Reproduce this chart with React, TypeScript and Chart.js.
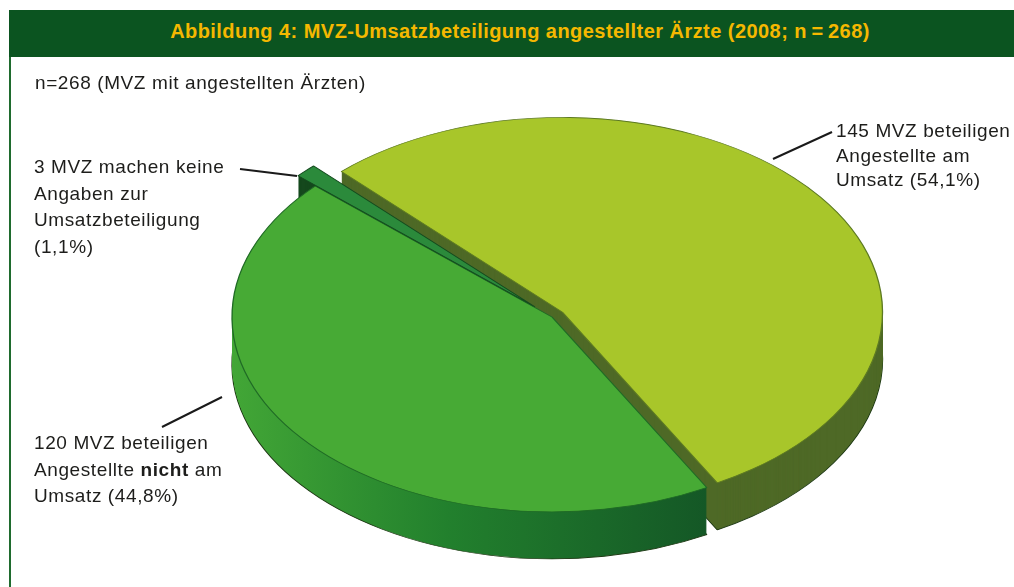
import React, { useEffect, useRef } from 'react';
import { Chart, registerables } from 'chart.js';

Chart.register(...registerables);

// ---- data ----
const categories = [
  '145 MVZ beteiligen Angestellte am Umsatz',
  '120 MVZ beteiligen Angestellte nicht am Umsatz',
  '3 MVZ machen keine Angaben zur Umsatzbeteiligung',
];
const counts = [145, 120, 3];
const percentLabels = ['54,1%', '44,8%', '1,1%'];
const labelLines = [
  ['145 MVZ beteiligen', 'Angestellte am', 'Umsatz (' + percentLabels[0] + ')'],
  ['120 MVZ beteiligen', 'Angestellte **nicht** am', 'Umsatz (' + percentLabels[1] + ')'],
  ['3 MVZ machen keine', 'Angaben zur', 'Umsatzbeteiligung', '(' + percentLabels[2] + ')'],
];
const titleText = 'Abbildung 4: MVZ-Umsatzbeteiligung angestellter Ärzte (2008; n\u2009=\u2009268)';
const subtitleText = 'n=268 (MVZ mit angestellten Ärzten)';

// ---- styles ----
const topColors = ['#a8c62a', '#47aa35', '#2b8a3b'];
const sideColors = ['#4e6926', '#22802d', '#15481d'];
const borderColors = ['#5d7a22', '#1f6a25', '#134a1e'];
const explode = [13, 0, 24];
const FONT = "'Liberation Sans', Arial, Helvetica, sans-serif";

const K = 0.609; // vertical squash
const DEPTH = 47; // side height in px
const CY = 317; // screen y of pie centre

const leaderLines = [
  [773, 159, 832, 132],
  [162, 427, 222, 397],
  [240, 169, 297, 176],
];

const pie3d = {
  id: 'pie3d',
  beforeDatasetsDraw(chart: any) {
    const ctx = chart.ctx as CanvasRenderingContext2D;
    const els = chart.getDatasetMeta(0).data;
    const grad = ctx.createLinearGradient(233, 0, 710, 0);
    grad.addColorStop(0, '#42a636');
    grad.addColorStop(0.45, '#22802d');
    grad.addColorStop(1, '#145726');
    for (let d = DEPTH; d >= 0; d--) {
      els.forEach((el: any, i: number) => {
        const { startAngle, endAngle, y } = el.getProps(['startAngle', 'endAngle', 'y'], true);
        const mid = (startAngle + endAngle) / 2;
        ctx.save();
        ctx.translate(0, CY + d);
        ctx.scale(1, K);
        ctx.translate(0, -y);
        ctx.translate(Math.cos(mid) * explode[i], Math.sin(mid) * explode[i]);
        const orig = el.options;
        const bg = d === 0 ? topColors[i] : i === 1 ? grad : sideColors[i];
        el.options = {
          ...orig,
          backgroundColor: bg,
          borderColor: d === 0 ? borderColors[i] : d === DEPTH ? '#1e3a14' : bg,
          borderWidth: d === 0 || d === DEPTH ? 1.3 : 0,
        };
        el.draw(ctx);
        el.options = orig;
        ctx.restore();
      });
    }
    ctx.save();
    ctx.strokeStyle = '#1a1a1a';
    ctx.lineWidth = 2;
    leaderLines.forEach(([x1, y1, x2, y2]) => {
      ctx.beginPath();
      ctx.moveTo(x1, y1);
      ctx.lineTo(x2, y2);
      ctx.stroke();
    });
    ctx.restore();
    return false;
  },
};

function renderLine(line: string, key: number) {
  const parts = line.split('**');
  return (
    <div key={key}>
      {parts.map((p, j) => (j % 2 === 1 ? <b key={j}>{p}</b> : <span key={j}>{p}</span>))}
    </div>
  );
}

const labelBox = (left: number, top: number, lh: number): React.CSSProperties => ({
  position: 'absolute',
  left,
  top,
  fontFamily: FONT,
  fontSize: 19,
  letterSpacing: 0.6,
  lineHeight: lh + 'px',
  color: '#1d1d1b',
  whiteSpace: 'nowrap',
});

export default function App() {
  const ref = useRef<HTMLCanvasElement | null>(null);
  useEffect(() => {
    if (!ref.current) return;
    const chart = new Chart(ref.current, {
      type: 'pie',
      data: {
        labels: categories,
        datasets: [
          {
            data: counts,
            backgroundColor: topColors,
            borderColor: borderColors,
            borderWidth: 1,
            radius: 320,
          } as any,
        ],
      },
      options: {
        responsive: false,
        animation: false,
        events: [],
        rotation: -43.7,
        layout: { padding: { left: 90 } },
        plugins: {
          legend: { display: false },
          tooltip: { enabled: false },
          title: { display: false },
        },
      } as any,
      plugins: [pie3d as any],
    });
    return () => chart.destroy();
  }, []);

  return (
    <div
      style={{
        position: 'absolute',
        left: 0,
        top: 0,
        width: 1014,
        height: 587,
        overflow: 'hidden',
        background: '#ffffff',
      }}
    >
      <div style={{ position: 'absolute', left: 9, top: 10, width: 1020, height: 47, background: '#0b5420' }} />
      <div
        style={{
          position: 'absolute',
          left: 0,
          top: 8,
          width: 1040,
          height: 47,
          lineHeight: '47px',
          textAlign: 'center',
          fontFamily: FONT,
          fontWeight: 'bold',
          fontSize: 20,
          letterSpacing: 0.45,
          color: '#f5b800',
          whiteSpace: 'nowrap',
        }}
      >
        {titleText}
      </div>
      <div style={{ position: 'absolute', left: 9, top: 57, width: 2, height: 530, background: '#1f6b2e' }} />
      <canvas ref={ref} width={1014} height={587} style={{ position: 'absolute', left: 0, top: 0 }} />
      <div style={labelBox(35, 71, 24)}>{subtitleText}</div>
      <div style={labelBox(836, 119, 24.5)}>{labelLines[0].map((l, i) => renderLine(l, i))}</div>
      <div style={labelBox(34, 430, 26.5)}>{labelLines[1].map((l, i) => renderLine(l, i))}</div>
      <div style={labelBox(34, 154, 26.5)}>{labelLines[2].map((l, i) => renderLine(l, i))}</div>
    </div>
  );
}
